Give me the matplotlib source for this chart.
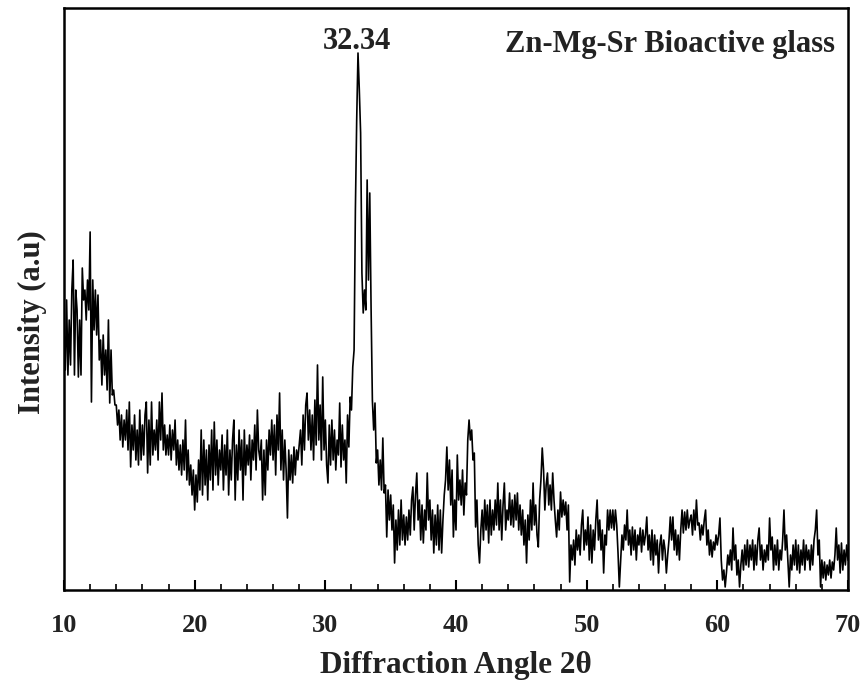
import numpy as np
import matplotlib
matplotlib.use("Agg")
import matplotlib.pyplot as plt
from matplotlib.ticker import MultipleLocator

# Diffraction angle grid start / step (degrees 2-theta)
angle_start = 10.0
angle_step = 0.1

# Intensity (a.u.), one row per degree (x.0 ... x.9)
intensity_rows = [
    [260, 220, 290, 215, 270, 225, 300, 330, 215, 300],  # 10
    [280, 213, 270, 215, 322, 290, 300, 270, 310, 280],  # 11
    [358, 188, 310, 260, 300, 255, 295, 230, 250, 205],  # 12
    [255, 215, 240, 200, 270, 187, 240, 195, 200, 185],  # 13
    [185, 165, 180, 150, 175, 143, 170, 150, 180, 140],  # 14
    [188, 123, 165, 140, 175, 130, 160, 125, 180, 130],  # 15
    [165, 135, 175, 188, 117, 170, 125, 188, 135, 160],  # 16
    [140, 170, 130, 188, 150, 197, 140, 165, 135, 155],  # 17
    [135, 165, 130, 160, 140, 170, 125, 150, 120, 145],  # 18
    [115, 150, 120, 170, 110, 140, 105, 125, 95, 120],   # 19
    [80, 115, 88, 130, 100, 160, 95, 150, 105, 140],     # 20
    [90, 145, 110, 160, 100, 168, 115, 150, 105, 140],   # 21
    [120, 155, 100, 145, 115, 160, 95, 140, 110, 150],   # 22
    [170, 90, 145, 110, 160, 120, 150, 90, 160, 115],    # 23
    [145, 125, 155, 110, 150, 130, 165, 120, 180, 140],  # 24
    [130, 150, 90, 140, 95, 150, 120, 160, 135, 170],    # 25
    [130, 165, 115, 175, 140, 197, 120, 160, 110, 150],  # 26
    [120, 72, 140, 110, 135, 107, 143, 115, 140, 130],   # 27
    [145, 160, 125, 175, 140, 185, 197, 150, 180, 140],  # 28
    [175, 130, 190, 145, 225, 150, 185, 130, 213, 140],  # 29
    [170, 125, 107, 165, 125, 170, 130, 160, 120, 150],  # 30
    [135, 187, 123, 165, 130, 150, 107, 175, 143, 193],  # 31
    [180, 223, 240, 380, 470, 537, 500, 457, 317, 277],  # 32
    [300, 280, 410, 310, 397, 283, 190, 160, 187, 127],  # 33
    [140, 105, 130, 100, 152, 97, 105, 53, 100, 70],     # 34
    [95, 60, 85, 27, 70, 40, 80, 45, 90, 50],            # 35
    [75, 45, 73, 50, 80, 55, 90, 103, 60, 95],           # 36
    [117, 70, 90, 50, 85, 47, 80, 60, 117, 70],          # 37
    [90, 50, 80, 37, 75, 45, 85, 40, 80, 37],            # 38
    [70, 95, 110, 143, 100, 130, 85, 120, 53, 90],       # 39
    [60, 135, 90, 110, 85, 120, 75, 107, 95, 150],       # 40
    [170, 150, 160, 130, 137, 63, 90, 45, 27, 60],       # 41
    [80, 50, 90, 60, 85, 47, 90, 55, 80, 60],            # 42
    [90, 65, 107, 60, 90, 50, 85, 107, 60, 80],          # 43
    [70, 97, 65, 90, 63, 95, 70, 97, 60, 85],            # 44
    [55, 80, 45, 70, 27, 75, 50, 90, 60, 107],           # 45
    [65, 85, 55, 43, 90, 110, 142, 120, 80, 105],        # 46
    [117, 85, 105, 80, 117, 90, 70, 53, 80, 60],         # 47
    [98, 73, 90, 75, 88, 60, 85, 8, 45, 30],             # 48
    [50, 25, 60, 40, 55, 35, 65, 80, 40, 60],            # 49
    [45, 73, 30, 65, 27, 60, 40, 70, 90, 50],            # 50
    [70, 40, 60, 17, 55, 45, 80, 60, 80, 62],            # 51
    [80, 60, 80, 65, 37, 3, 30, 55, 40, 65],             # 52
    [50, 80, 45, 60, 35, 63, 40, 60, 30, 55],            # 53
    [45, 62, 38, 60, 45, 55, 73, 40, 55, 30],            # 54
    [60, 25, 55, 35, 50, 17, 45, 55, 30, 50],            # 55
    [40, 17, 35, 50, 73, 50, 73, 40, 60, 35],            # 56
    [55, 30, 60, 80, 57, 78, 60, 80, 62, 70],            # 57
    [75, 55, 80, 60, 90, 65, 67, 50, 65, 55],            # 58
    [70, 80, 45, 60, 35, 50, 33, 48, 40, 55],            # 59
    [45, 55, 72, 30, 10, 20, 3, 18, 35, 25],             # 60
    [40, 20, 62, 30, 45, 15, 30, 3, 25, 40],             # 61
    [20, 45, 25, 50, 23, 45, 30, 50, 20, 45],            # 62
    [25, 50, 62, 30, 45, 20, 40, 28, 45, 30],            # 63
    [72, 40, 53, 20, 45, 25, 50, 20, 40, 30],            # 64
    [50, 80, 40, 55, 30, 3, 35, 20, 45, 25],             # 65
    [50, 20, 45, 17, 40, 25, 50, 20, 45, 30],            # 66
    [40, 20, 45, 25, 50, 60, 80, 35, 50, 3],             # 67
    [30, 12, 28, 10, 25, 15, 30, 12, 28, 20],            # 68
    [35, 62, 30, 45, 17, 47, 20, 40, 25, 45],            # 69
    [30],                                                # 70
]

intensity = np.array([v for row in intensity_rows for v in row], dtype=float)
angle = angle_start + angle_step * np.arange(len(intensity))

peak_label = "32.34"
peak_pos = (32.45, 534)
sample_label = "Zn-Mg-Sr Bioactive glass"
x_label = "Diffraction Angle 2θ"
y_label = "Intensity (a.u)"
x_ticks = [10, 20, 30, 40, 50, 60, 70]

serif = ["Liberation Serif", "DejaVu Serif"]
txt_color = "#222222"

fig = plt.figure(figsize=(8.63, 6.80), dpi=100)
ax = fig.add_axes([64 / 863, 90 / 680, 784 / 863, 582 / 680])

ax.plot(angle, intensity, color="black", lw=1.2)

ax.set_xlim(10, 70)
ax.set_ylim(0, 582)
ax.set_xticks(x_ticks)
ax.xaxis.set_minor_locator(MultipleLocator(2))
ax.set_yticks([])
ax.tick_params(axis="x", which="major", direction="in", length=7, width=1.5,
               pad=17, labelsize=19)
ax.tick_params(axis="x", which="minor", direction="in", length=4, width=1.2)
for lab in ax.get_xticklabels():
    lab.set_fontfamily(serif)
    lab.set_fontweight("bold")
    lab.set_color(txt_color)
for sp in ax.spines.values():
    sp.set_linewidth(1.8)

ax.set_xlabel(x_label, family=serif, fontweight="bold", fontsize=22.5,
              color=txt_color, labelpad=10)
ax.set_ylabel(y_label, family=serif, fontweight="bold", fontsize=22,
              color=txt_color)
ax.yaxis.set_label_coords(-0.022, 0.46)

ax.text(peak_pos[0], peak_pos[1], peak_label, ha="center", va="bottom",
        family=serif, fontweight="bold", fontsize=22, color=txt_color)
ax.text(0.983, 0.962, sample_label, transform=ax.transAxes, ha="right",
        va="top", family=serif, fontweight="bold", fontsize=22,
        color=txt_color)

fig.savefig("out.png", dpi=100)
